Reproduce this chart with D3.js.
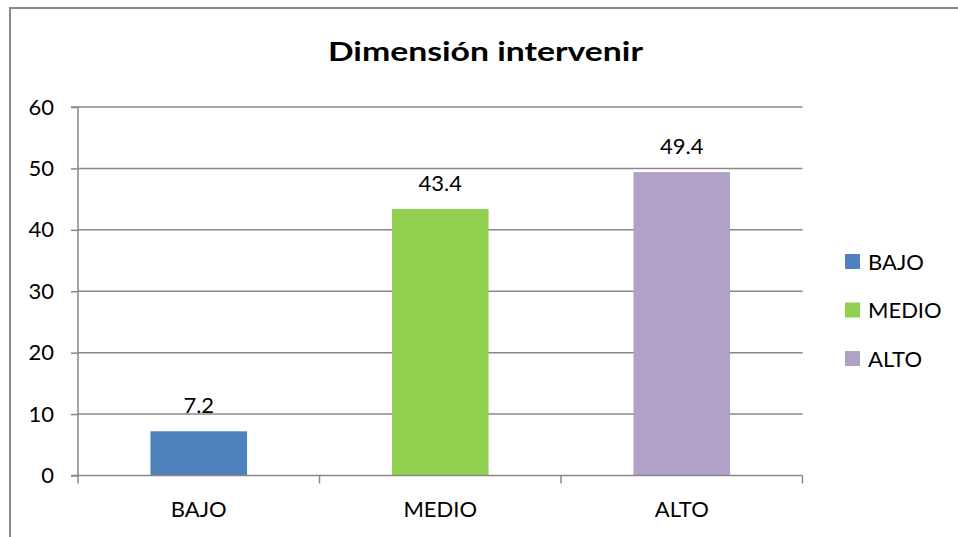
<!DOCTYPE html>
<html><head><meta charset="utf-8">
<script src="https://cdn.jsdelivr.net/npm/d3@7"></script>
<style>html,body{margin:0;padding:0;background:#fff;overflow:hidden}</style>
</head><body>
<script>
const title = "Dimensión intervenir";
const categories = ["BAJO", "MEDIO", "ALTO"];
const values = [7.2, 43.4, 49.4];
const colors = ["#4f81bd", "#92d050", "#b2a1c7"];
const yTicks = [0, 10, 20, 30, 40, 50, 60];

(function () {
const W = 958, H = 537;
const svg = d3.select("body").append("svg").attr("width", W).attr("height", H);
const font = "Lato, 'Open Sans', sans-serif";
const fs = 22;

// outer border
svg.append("rect").attr("x", 10).attr("y", 8).attr("width", W + 20).attr("height", H + 20)
  .attr("fill", "none").attr("stroke", "#8a8a8a").attr("stroke-width", 2);

const pl = 78, pr = 802.5, pt = 107, pb = 475.5;
const x = d3.scaleBand().domain(categories).range([pl, pr]).paddingInner(0.6).paddingOuter(0.3);
const xb = d3.scaleBand().domain(categories).range([pl, pr]);
const y = d3.scaleLinear().domain([0, 60]).range([pb, pt]);

// gridlines
svg.append("g").selectAll("line").data(yTicks.slice(1)).join("line")
  .attr("x1", pl).attr("x2", pr).attr("y1", d => y(d)).attr("y2", d => y(d))
  .attr("stroke", "#888").attr("stroke-width", 1.5);

// bars
svg.append("g").selectAll("rect").data(values).join("rect")
  .attr("x", (d, i) => x(categories[i])).attr("width", x.bandwidth())
  .attr("y", d => y(d)).attr("height", d => y(0) - y(d))
  .attr("fill", (d, i) => colors[i]);

// y axis
const yAxis = svg.append("g").attr("transform", `translate(${pl},0)`)
  .call(d3.axisLeft(y).tickValues(yTicks).tickSize(7).tickPadding(17).tickFormat(d3.format("d")));
yAxis.select(".domain").attr("stroke", "#888").attr("stroke-width", 1.5).attr("d", `M-7,${pt}H0V${pb}H-7`);
yAxis.selectAll(".tick line").attr("stroke", "#888").attr("stroke-width", 1.5);
yAxis.selectAll("text").attr("font-family", font).attr("font-size", fs).attr("fill", "#000");

// x axis
const xAxis = svg.append("g").attr("transform", `translate(0,${pb})`)
  .call(d3.axisBottom(xb).tickSize(0).tickPadding(26));
xAxis.select(".domain").attr("stroke", "#888").attr("stroke-width", 1.5).attr("d", `M${pl},0H${pr}`);
xAxis.selectAll("text").attr("font-family", font).attr("font-size", fs).attr("fill", "#000");
const edges = categories.map(c => xb(c)).concat([pr]);
svg.append("g").selectAll("line").data(edges).join("line")
  .attr("x1", d => d).attr("x2", d => d).attr("y1", pb).attr("y2", pb + 8)
  .attr("stroke", "#888").attr("stroke-width", 1.5);

// value labels
svg.append("g").selectAll("text").data(values).join("text")
  .attr("x", (d, i) => x(categories[i]) + x.bandwidth() / 2)
  .attr("y", d => y(d) - 18)
  .attr("text-anchor", "middle").attr("font-family", font).attr("font-size", fs)
  .text(d => d3.format(".1f")(d));

// title
svg.append("text").attr("x", 485.5).attr("y", 61).attr("text-anchor", "middle")
  .attr("font-family", font).attr("font-weight", "bold").attr("font-size", 27)
  .attr("textLength", 315).attr("lengthAdjust", "spacingAndGlyphs").text(title);

// legend
const lg = svg.append("g");
categories.forEach((c, i) => {
  const yy = 254 + i * 48.5;
  lg.append("rect").attr("x", 845).attr("y", yy).attr("width", 15).attr("height", 15).attr("fill", colors[i]);
  lg.append("text").attr("x", 868).attr("y", yy + 15.5).attr("font-family", font).attr("font-size", fs).text(c);
});
})();
</script>
</body></html>
